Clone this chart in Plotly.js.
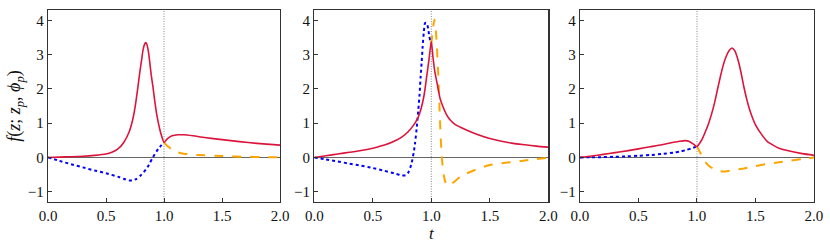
<!DOCTYPE html>
<html>
<head>
<meta charset="utf-8">
<script src="https://cdn.plot.ly/plotly-3.0.1.min.js"></script>
<style>html,body{margin:0;padding:0;background:#fff;}#chart{width:830px;height:244px;}</style>
</head>
<body>
<div id="chart"></div>
<script>
// Panel 1
const red1X = [0,0.1,0.2,0.3,0.4,0.5,0.55,0.6,0.65,0.7,0.73,0.75,0.775,0.79,0.805,0.82,0.832,0.842,0.852,0.865,0.877,0.89,0.905,0.92,0.935,0.95,0.965,0.98,1.0,1.03,1.07,1.12,1.17,1.25,1.35,1.5,1.65,1.8,2.0];
const red1Y = [0,0.01,0.02,0.035,0.06,0.1,0.15,0.24,0.42,0.75,1.1,1.45,2.05,2.45,2.8,3.15,3.3,3.35,3.3,3.1,2.78,2.4,2.05,1.65,1.3,1.03,0.8,0.62,0.44,0.55,0.63,0.66,0.66,0.63,0.58,0.52,0.46,0.41,0.36];
const blue1X = [0,0.1,0.2,0.3,0.4,0.5,0.6,0.65,0.7,0.73,0.76,0.8,0.85,0.88,0.9,0.95,1.0];
const blue1Y = [0,-0.1,-0.2,-0.29,-0.38,-0.46,-0.56,-0.62,-0.67,-0.67,-0.63,-0.52,-0.33,-0.15,-0.02,0.25,0.44];
const orange1X = [1.0,1.03,1.07,1.12,1.17,1.25,1.35,1.5,1.7,1.85,2.0];
const orange1Y = [0.44,0.33,0.23,0.15,0.11,0.08,0.06,0.04,0.02,0.01,0.0];

// Panel 2
const red2X = [0,0.1,0.2,0.3,0.4,0.5,0.6,0.7,0.75,0.8,0.85,0.88,0.9,0.92,0.94,0.96,0.98,1.0,1.015,1.03,1.05,1.075,1.1,1.13,1.16,1.2,1.3,1.4,1.5,1.6,1.7,1.8,1.9,2.0];
const red2Y = [0,0.05,0.1,0.15,0.2,0.27,0.36,0.5,0.6,0.74,0.95,1.12,1.28,1.52,1.85,2.35,2.85,3.38,2.9,2.5,2.15,1.72,1.48,1.25,1.1,0.97,0.8,0.66,0.55,0.47,0.41,0.37,0.33,0.3];
const blue2X = [0,0.1,0.2,0.3,0.4,0.5,0.6,0.7,0.75,0.78,0.8,0.82,0.832,0.85,0.861,0.875,0.889,0.9,0.909,0.918,0.926,0.936,0.946,0.956,0.966,0.975,0.983,0.992,1.0];
const blue2Y = [0,-0.06,-0.12,-0.18,-0.24,-0.31,-0.39,-0.48,-0.53,-0.52,-0.46,-0.3,-0.16,0.15,0.42,0.85,1.39,1.85,2.37,2.8,3.24,3.65,3.92,3.93,3.87,3.72,3.53,3.4,3.3];
const orange2X = [1.0,1.012,1.026,1.036,1.046,1.06,1.074,1.089,1.1,1.108,1.12,1.137,1.15,1.2,1.25,1.3,1.4,1.5,1.6,1.7,1.8,1.9,2.0];
const orange2Y = [3.3,3.7,4.02,3.8,3.34,2.37,1.1,0.03,-0.35,-0.55,-0.72,-0.83,-0.82,-0.7,-0.56,-0.47,-0.33,-0.22,-0.17,-0.13,-0.09,-0.05,-0.01];

// Panel 3
const red3X = [0,0.1,0.2,0.3,0.4,0.5,0.6,0.7,0.8,0.85,0.9,0.93,0.96,0.98,1.0,1.03,1.05,1.075,1.1,1.125,1.15,1.175,1.2,1.225,1.25,1.275,1.3,1.325,1.35,1.375,1.4,1.425,1.45,1.475,1.5,1.55,1.6,1.65,1.7,1.8,1.9,2.0];
const red3Y = [0,0.04,0.09,0.14,0.19,0.25,0.31,0.37,0.44,0.47,0.49,0.47,0.41,0.36,0.32,0.45,0.58,0.78,1.0,1.27,1.59,1.98,2.36,2.7,2.95,3.12,3.19,3.1,2.85,2.5,2.07,1.7,1.39,1.15,0.95,0.68,0.47,0.36,0.27,0.18,0.11,0.06];
const blue3X = [0,0.1,0.2,0.3,0.4,0.5,0.6,0.7,0.8,0.85,0.9,0.95,1.0];
const blue3Y = [0,0.005,0.01,0.02,0.03,0.05,0.07,0.1,0.14,0.17,0.21,0.26,0.32];
const orange3X = [1.0,1.03,1.06,1.1,1.15,1.2,1.24,1.3,1.4,1.5,1.6,1.7,1.8,1.9,2.0];
const orange3Y = [0.32,0.12,-0.08,-0.24,-0.35,-0.4,-0.41,-0.38,-0.32,-0.25,-0.19,-0.14,-0.09,-0.05,0.0];

const xTickVals = [0,0.5,1,1.5,2];
const yTickVals = [-1,0,1,2,3,4];
const refX = 1;

const RED = '#DC143C', BLUE = '#0000FF', ORANGE = '#FFA500';
const panels = [
  [red1X,red1Y,blue1X,blue1Y,orange1X,orange1Y],
  [red2X,red2Y,blue2X,blue2Y,orange2X,orange2Y],
  [red3X,red3Y,blue3X,blue3Y,orange3X,orange3Y]
];
const traces = [];
panels.forEach((p,i) => {
  const xa = i === 0 ? 'x' : 'x' + (i+1);
  const ya = i === 0 ? 'y' : 'y' + (i+1);
  traces.push({x:p[2], y:p[3], xaxis:xa, yaxis:ya, mode:'lines', line:{color:BLUE, width:2, dash:'dot', shape:'spline', smoothing:0.5}, showlegend:false});
  traces.push({x:p[4], y:p[5], xaxis:xa, yaxis:ya, mode:'lines', line:{color:ORANGE, width:2, dash:'dash', shape:'spline', smoothing:0.5}, showlegend:false});
  traces.push({x:p[0], y:p[1], xaxis:xa, yaxis:ya, mode:'lines', line:{color:RED, width:1.6, shape:'spline', smoothing:0.6}, showlegend:false});
});

const FAMILY = 'Liberation Serif, DejaVu Serif, serif';
const font = {family:FAMILY, size:15, color:'#111'};
function xaxis(dom){
  return {domain:dom, range:[0,2], tickvals:xTickVals, tickformat:'.1f', ticks:'inside', ticklen:4, tickcolor:'#333',
    showline:true, mirror:true, linecolor:'#333', linewidth:1.3, showgrid:false, zeroline:false, tickfont:font, fixedrange:true};
}
function yaxis(anchor){
  return {anchor:anchor, range:[-1.3,4.3], tickvals:yTickVals, ticks:'inside', ticklen:4, tickcolor:'#333',
    showline:true, mirror:true, linecolor:'#333', linewidth:1.3, showgrid:false,
    zeroline:true, zerolinecolor:'#666', zerolinewidth:1.2, tickfont:font, fixedrange:true};
}
const layout = {
  width:830, height:244,
  margin:{l:48, r:16, t:10, b:42},
  paper_bgcolor:'#fff', plot_bgcolor:'#fff',
  font:font,
  xaxis: Object.assign(xaxis([0,0.3029]), {anchor:'y'}),
  xaxis2: Object.assign(xaxis([0.3477,0.6531]), {anchor:'y2', title:{text:'<i>t</i>', font:{family:FAMILY, size:17, color:'#111'}, standoff:3}}),
  xaxis3: Object.assign(xaxis([0.6945,1]), {anchor:'y3'}),
  yaxis: Object.assign(yaxis('x'), {title:{text:'<i>f</i>(<i>z</i>; <i>z</i><sub><i>p</i></sub>, <i>ϕ</i><sub><i>p</i></sub>)', font:{family:FAMILY, size:18, color:'#111'}, standoff:2}}),
  yaxis2: yaxis('x2'),
  yaxis3: yaxis('x3'),
  shapes: ['x','x2','x3'].map((xr,i) => ({type:'line', xref:xr, yref:(i===0?'y':'y'+(i+1))+' domain', x0:refX, x1:refX, y0:0, y1:1,
    line:{color:'#555', width:0.7, dash:'1px,1.5px'}, layer:'below'}))
};
Plotly.newPlot('chart', traces, layout, {staticPlot:true, displayModeBar:false});
</script>
</body>
</html>
